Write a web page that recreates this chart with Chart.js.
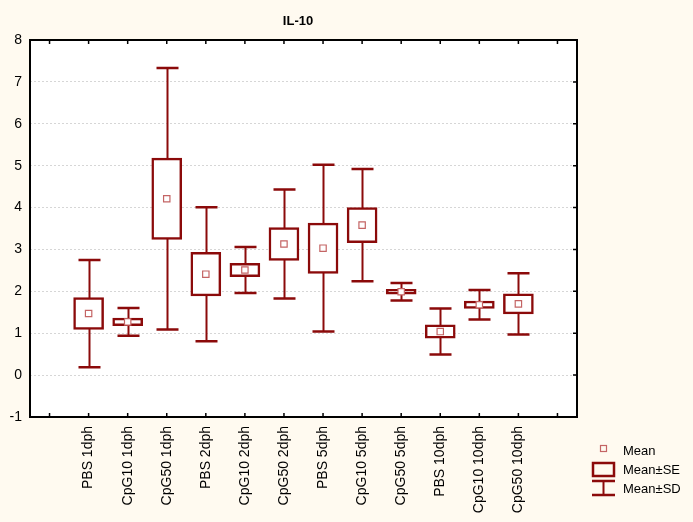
<!DOCTYPE html>
<html>
<head>
<meta charset="utf-8">
<script src="https://cdn.jsdelivr.net/npm/chart.js@4.4.0/dist/chart.umd.min.js"></script>
<style>
html, body { margin: 0; padding: 0; background: #fffaf0; }
</style>
</head>
<body>
<canvas id="myChart" width="693" height="522"></canvas>
<script>
// groups
const groups = ['PBS 1dph', 'CpG10 1dph', 'CpG50 1dph', 'PBS 2dph', 'CpG10 2dph', 'CpG50 2dph',
    'PBS 5dph', 'CpG10 5dph', 'CpG50 5dph', 'PBS 10dph', 'CpG10 10dph', 'CpG50 10dph'];
const means = [1.47, 1.27, 4.21, 2.41, 2.51, 3.13, 3.03, 3.58, 1.99, 1.04, 1.68, 1.70];
const seHalf = [0.38, 0.09, 0.97, 0.52, 0.16, 0.39, 0.60, 0.42, 0.06, 0.16, 0.09, 0.24];
const sdHalf = [1.28, 0.33, 3.12, 1.60, 0.55, 1.30, 1.99, 1.34, 0.21, 0.55, 0.35, 0.73];
const yMin = -1;
const yMax = 8;

const RED = '#8b0a0a';
const MEAN_COLOR = '#c46464';
const FONT = '"Liberation Sans", Arial, sans-serif';

// empty slot at each end of the x axis
const labels = [''].concat(groups, ['']);
const pad = function (arr) { return [null].concat(arr, [null]); };

const seBars = pad(means.map(function (m, i) { return [m - seHalf[i], m + seHalf[i]]; }));

const statPlot = {
    id: 'statPlot',
    beforeDraw(chart) {
        const { ctx, chartArea: a } = chart;
        ctx.save();
        ctx.fillStyle = '#fffaf0';
        ctx.fillRect(0, 0, chart.width, chart.height);
        ctx.fillStyle = '#ffffff';
        ctx.fillRect(a.left, a.top, a.right - a.left, a.bottom - a.top);
        ctx.restore();
    },
    beforeDatasetsDraw(chart) {
        // mean +- SD whiskers
        const { ctx, scales: { x, y } } = chart;
        ctx.save();
        ctx.strokeStyle = RED;
        means.forEach(function (m, i) {
            const px = Math.round(x.getPixelForValue(i + 1)) + 0.5;
            const top = y.getPixelForValue(m + sdHalf[i]);
            const bot = y.getPixelForValue(m - sdHalf[i]);
            ctx.lineWidth = 2;
            ctx.beginPath();
            ctx.moveTo(px, top);
            ctx.lineTo(px, bot);
            ctx.stroke();
            ctx.lineWidth = 2.5;
            ctx.beginPath();
            ctx.moveTo(px - 11, top);
            ctx.lineTo(px + 11, top);
            ctx.moveTo(px - 11, bot);
            ctx.lineTo(px + 11, bot);
            ctx.stroke();
        });
        ctx.restore();
    },
    afterDraw(chart) {
        const { ctx, chartArea: a, scales: { x, y } } = chart;
        ctx.save();
        // frame
        ctx.strokeStyle = '#000';
        ctx.lineWidth = 2;
        ctx.strokeRect(a.left, a.top, a.right - a.left, a.bottom - a.top);
        // inward ticks
        ctx.lineWidth = 1.5;
        ctx.beginPath();
        labels.forEach(function (l, i) {
            const px = x.getPixelForValue(i);
            ctx.moveTo(px, a.top);
            ctx.lineTo(px, a.top + 4);
            ctx.moveTo(px, a.bottom);
            ctx.lineTo(px, a.bottom - 4);
        });
        for (let v = yMin + 1; v < yMax; v++) {
            const py = y.getPixelForValue(v);
            ctx.moveTo(a.right, py);
            ctx.lineTo(a.right - 4, py);
        }
        ctx.stroke();

        // title
        ctx.fillStyle = '#000';
        ctx.font = 'bold 13px ' + FONT;
        ctx.textAlign = 'center';
        ctx.textBaseline = 'middle';
        ctx.fillText('IL-10', 298, 21);

        // legend
        ctx.strokeStyle = MEAN_COLOR;
        ctx.lineWidth = 1.2;
        ctx.strokeRect(600.5, 445.5, 6, 6);
        ctx.strokeStyle = RED;
        ctx.lineWidth = 2.5;
        ctx.strokeRect(593, 463, 21, 13);
        ctx.beginPath();
        ctx.moveTo(592, 481);
        ctx.lineTo(615, 481);
        ctx.moveTo(592, 495);
        ctx.lineTo(615, 495);
        ctx.stroke();
        ctx.lineWidth = 2;
        ctx.beginPath();
        ctx.moveTo(603.5, 481);
        ctx.lineTo(603.5, 495);
        ctx.stroke();
        ctx.font = '13px ' + FONT;
        ctx.textAlign = 'left';
        ctx.fillText('Mean', 623, 451);
        ctx.fillText('Mean\u00b1SE', 623, 470);
        ctx.fillText('Mean\u00b1SD', 623, 489);
        ctx.restore();
    }
};

const config = {
    type: 'bar',
    data: {
        labels: labels,
        datasets: [{
            label: 'Mean\u00b1SE',
            data: seBars,
            backgroundColor: '#ffffff',
            borderColor: RED,
            borderWidth: 2.5,
            borderSkipped: false,
            barThickness: 30,
            order: 2
        }, {
            type: 'line',
            label: 'Mean',
            data: pad(means),
            showLine: false,
            pointStyle: 'rect',
            pointRadius: 4.5,
            pointBorderWidth: 1.2,
            pointBorderColor: MEAN_COLOR,
            pointBackgroundColor: '#ffffff',
            order: 1
        }]
    },
    plugins: [statPlot],
    options: {
        responsive: false,
        animation: false,
        events: [],
        layout: {
            padding: { top: 40, right: 116, left: 0, bottom: 0 }
        },
        plugins: {
            legend: { display: false },
            title: { display: false },
            tooltip: { enabled: false }
        },
        scales: {
            x: {
                offset: true,
                grid: { display: false },
                border: { display: false },
                ticks: {
                    autoSkip: false,
                    minRotation: 90,
                    maxRotation: 90,
                    padding: 1,
                    color: '#000',
                    font: { family: FONT, size: 14 }
                },
                afterFit(scale) { scale.height = 105; }
            },
            y: {
                min: yMin,
                max: yMax,
                grid: { color: '#d6d6d6', lineWidth: 1, drawTicks: false },
                border: { display: false, dash: [2, 2] },
                ticks: {
                    stepSize: 1,
                    padding: 8,
                    color: '#000',
                    font: { family: FONT, size: 14 }
                },
                afterFit(scale) { scale.width = 30; }
            }
        }
    }
};

const myChart = new Chart(document.getElementById('myChart'), config);
</script>
</body>
</html>
